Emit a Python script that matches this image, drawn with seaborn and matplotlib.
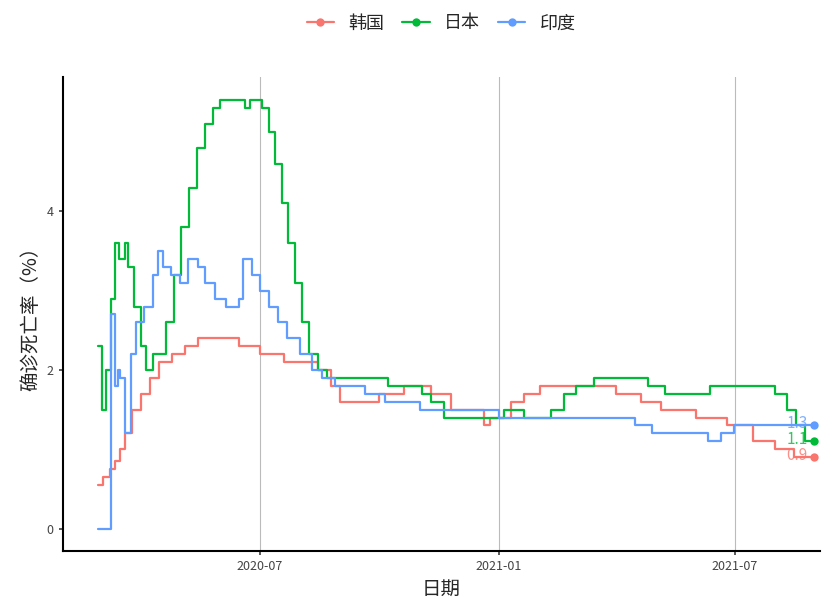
import pandas as pd
import numpy as np
import matplotlib
matplotlib.use("Agg")
import matplotlib.pyplot as plt
import matplotlib.dates as mdates
import seaborn as sns

kr_dates = ["2020-02-28","2020-03-03","2020-03-08","2020-03-12","2020-03-16","2020-03-20","2020-03-25","2020-04-01","2020-04-08","2020-04-15","2020-04-25","2020-05-05","2020-05-15","2020-06-15","2020-07-01","2020-07-20","2020-08-15","2020-08-25","2020-09-01","2020-09-10","2020-10-01","2020-10-20","2020-11-10","2020-11-25","2020-12-20","2020-12-25","2021-01-10","2021-01-20","2021-02-01","2021-04-01","2021-04-20","2021-05-05","2021-06-01","2021-06-25","2021-07-15","2021-08-01","2021-08-15","2021-08-31"]
kr_vals  = [0.55,0.65,0.75,0.85,1.0,1.2,1.5,1.7,1.9,2.1,2.2,2.3,2.4,2.3,2.2,2.1,2.0,1.8,1.6,1.6,1.7,1.8,1.7,1.5,1.3,1.4,1.6,1.7,1.8,1.7,1.6,1.5,1.4,1.3,1.1,1.0,0.9,0.9]

jp_dates = ["2020-02-28","2020-03-02","2020-03-05","2020-03-09","2020-03-12","2020-03-15","2020-03-20","2020-03-22","2020-03-27","2020-04-01","2020-04-05","2020-04-10","2020-04-20","2020-04-26","2020-05-02","2020-05-08","2020-05-14","2020-05-20","2020-05-26","2020-06-01","2020-06-06","2020-06-20","2020-06-24","2020-07-03","2020-07-08","2020-07-13","2020-07-18","2020-07-23","2020-07-28","2020-08-03","2020-08-08","2020-08-15","2020-08-22","2020-10-08","2020-11-03","2020-11-10","2020-11-20","2021-01-05","2021-01-20","2021-02-10","2021-02-20","2021-03-01","2021-03-15","2021-04-25","2021-05-08","2021-06-12","2021-08-01","2021-08-10","2021-08-17","2021-08-24","2021-08-31"]
jp_vals  = [2.3,1.5,2.0,2.9,3.6,3.4,3.6,3.3,2.8,2.3,2.0,2.2,2.6,3.2,3.8,4.3,4.8,5.1,5.3,5.4,5.4,5.3,5.4,5.3,5.0,4.6,4.1,3.6,3.1,2.6,2.2,2.0,1.9,1.8,1.7,1.6,1.4,1.5,1.4,1.5,1.7,1.8,1.9,1.8,1.7,1.8,1.7,1.5,1.3,1.1,1.1]

in_dates = ["2020-02-28","2020-03-09","2020-03-12","2020-03-14","2020-03-16","2020-03-20","2020-03-24","2020-03-28","2020-04-03","2020-04-10","2020-04-14","2020-04-18","2020-04-24","2020-05-01","2020-05-07","2020-05-15","2020-05-20","2020-05-28","2020-06-05","2020-06-15","2020-06-18","2020-06-25","2020-07-01","2020-07-08","2020-07-15","2020-07-22","2020-08-01","2020-08-10","2020-08-18","2020-08-28","2020-09-20","2020-10-05","2020-11-01","2021-01-01","2021-04-05","2021-04-15","2021-04-28","2021-06-10","2021-06-20","2021-06-30","2021-08-31"]
in_vals  = [0.0,2.7,1.8,2.0,1.9,1.2,2.2,2.6,2.8,3.2,3.5,3.3,3.2,3.1,3.4,3.3,3.1,2.9,2.8,2.9,3.4,3.2,3.0,2.8,2.6,2.4,2.2,2.0,1.9,1.8,1.7,1.6,1.5,1.4,1.4,1.3,1.2,1.1,1.2,1.3,1.3]

countries = ["韩国","日本","印度"]
colors = ["#F8766D","#00BA38","#619CFF"]

frames = []
for c, d, v in zip(countries, [kr_dates, jp_dates, in_dates], [kr_vals, jp_vals, in_vals]):
    frames.append(pd.DataFrame({"date": pd.to_datetime(d), "rate": v, "country": c}))
df = pd.concat(frames, ignore_index=True)

sns.set_theme(style="white")
plt.rcParams['font.family'] = ['Noto Sans CJK SC', 'DejaVu Sans']
fig, ax = plt.subplots(figsize=(8.38, 6.12), dpi=100)
for c, col in zip(countries, colors):
    sub = df[df.country == c]
    sns.lineplot(data=sub, x="date", y="rate", color=col, drawstyle="steps-post",
                 linewidth=1.6, ax=ax, label=c, marker="o", markevery=[len(sub)-1],
                 markersize=6, markeredgewidth=0)
    last = sub.iloc[-1]
    ax.text(last.date - pd.Timedelta(days=5), last.rate + 0.02, f"{last.rate:.1f}",
            color=col, ha="right", va="center", fontsize=11, alpha=0.8)

ax.set_ylim(-0.28, 5.7)
ax.set_yticks([0, 2, 4])
ax.set_xlim(pd.Timestamp("2020-02-01"), pd.Timestamp("2021-09-04"))
ax.xaxis.set_major_locator(mdates.MonthLocator(bymonth=[1, 7]))
ax.xaxis.set_major_formatter(mdates.DateFormatter("%Y-%m"))
ax.grid(axis="x", color="#BBBBBB", linewidth=0.8)
ax.grid(axis="y", visible=False)
for s in ["top", "right"]:
    ax.spines[s].set_visible(False)
for s in ["left", "bottom"]:
    ax.spines[s].set_color("black")
    ax.spines[s].set_linewidth(1.5)
ax.tick_params(axis="both", labelsize=9, colors="#444444", length=3, left=True, bottom=True)
ax.set_xlabel("日期", fontsize=14)
ax.set_ylabel("确诊死亡率（%）", fontsize=14)
ax.legend(loc="upper center", bbox_to_anchor=(0.5, 1.165), ncol=3, frameon=False,
          fontsize=13, handlelength=1.5, columnspacing=1.0)
fig.subplots_adjust(left=0.075, right=0.978, top=0.875, bottom=0.1)
fig.savefig("out.png", dpi=100)
